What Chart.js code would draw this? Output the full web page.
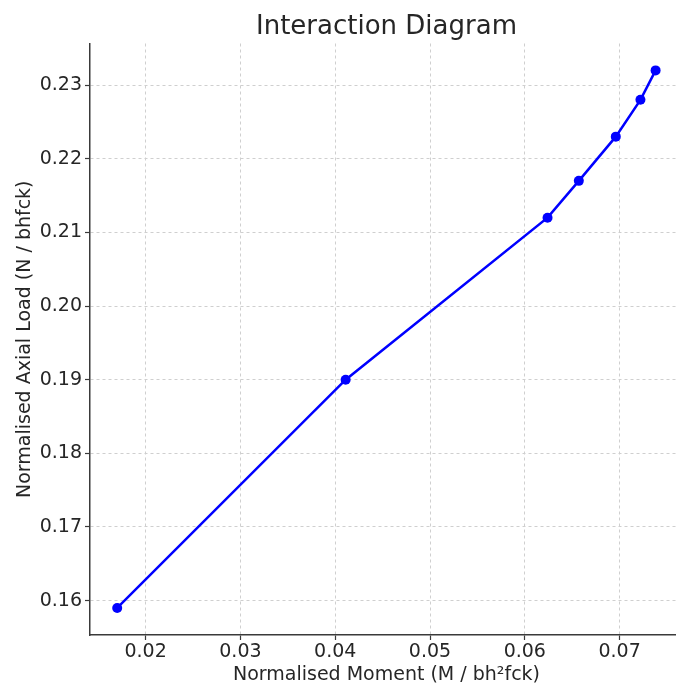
<!DOCTYPE html>
<html>
<head>
<meta charset="utf-8">
<script src="https://cdn.jsdelivr.net/npm/chart.js@4/dist/chart.umd.min.js"></script>
<style>
  html, body { margin: 0; padding: 0; background: #fff; overflow: hidden; }
  #wrap { width: 688px; height: 686px; }
</style>
</head>
<body>
<div id="wrap"><canvas id="chart" width="688" height="686"></canvas></div>
<script>
// values
var moment = [0.0170, 0.0411, 0.0624, 0.0657, 0.0696, 0.0722, 0.0738];
var axialLoad = [0.159, 0.190, 0.212, 0.217, 0.223, 0.228, 0.232];
var xTicks = [0.02, 0.03, 0.04, 0.05, 0.06, 0.07];
var yTicks = [0.16, 0.17, 0.18, 0.19, 0.20, 0.21, 0.22, 0.23];
var chartTitle = 'Interaction Diagram';

var textColor = '#262626';
var axisColor = '#3a3a3a';
var gridColor = '#cfcfcf';
var fontFamily = "'DejaVu Sans', sans-serif";

var points = moment.map(function (m, i) { return {x: m, y: axialLoad[i]}; });

function fixedTicks(list) {
    return function (scale) {
        scale.ticks = list.map(function (v) { return {value: v}; });
    };
}

// matplotlib centres the title over the axes, not the figure
var axesTitle = {
    id: 'axesTitle',
    afterDraw: function (chart) {
        var ctx = chart.ctx, area = chart.chartArea;
        ctx.save();
        ctx.fillStyle = textColor;
        ctx.font = '26px ' + fontFamily;
        ctx.textAlign = 'center';
        ctx.textBaseline = 'alphabetic';
        ctx.fillText(chartTitle, (area.left + area.right) / 2, 34);
        ctx.restore();
    }
};

var chart = new Chart(document.getElementById('chart'), {
    type: 'line',
    data: {
        datasets: [{
            data: points,
            borderColor: '#0000ff',
            backgroundColor: '#0000ff',
            borderWidth: 2.5,
            pointRadius: 5,
            pointHoverRadius: 5,
            pointBorderWidth: 0,
            tension: 0,
            fill: false
        }]
    },
    plugins: [axesTitle],
    options: {
        responsive: false,
        animation: false,
        layout: {padding: {left: 0, right: 2, top: 43.5, bottom: 0}},
        plugins: {
            legend: {display: false},
            tooltip: {enabled: false},
            title: {display: false}
        },
        scales: {
            x: {
                type: 'linear',
                min: 0.01413,
                max: 0.07669,
                afterBuildTicks: fixedTicks(xTicks),
                afterFit: function (scale) { scale.height = 51; },
                border: {display: true, color: axisColor, width: 1.5, dash: [3, 3]},
                grid: {color: gridColor, lineWidth: 1, tickLength: 5, tickColor: axisColor, tickWidth: 1.2},
                ticks: {
                    color: textColor,
                    padding: 1,
                    maxRotation: 0,
                    font: {family: fontFamily, size: 19},
                    callback: function (v) { return v.toFixed(2); }
                },
                title: {
                    display: true,
                    text: 'Normalised Moment (M / bh²fck)',
                    color: textColor,
                    font: {family: fontFamily, size: 19},
                    padding: {top: 0, bottom: 0}
                }
            },
            y: {
                type: 'linear',
                min: 0.15533,
                max: 0.23565,
                afterBuildTicks: fixedTicks(yTicks),
                afterFit: function (scale) { scale.width = 90; },
                border: {display: true, color: axisColor, width: 1.5, dash: [3, 3]},
                grid: {color: gridColor, lineWidth: 1, tickLength: 5, tickColor: axisColor, tickWidth: 1.2},
                ticks: {
                    color: textColor,
                    padding: 3,
                    font: {family: fontFamily, size: 19},
                    callback: function (v) { return v.toFixed(2); }
                },
                title: {
                    display: true,
                    text: 'Normalised Axial Load (N / bhfck)',
                    color: textColor,
                    font: {family: fontFamily, size: 19},
                    padding: {top: 14, bottom: 0}
                }
            }
        }
    }
});
</script>
</body>
</html>
